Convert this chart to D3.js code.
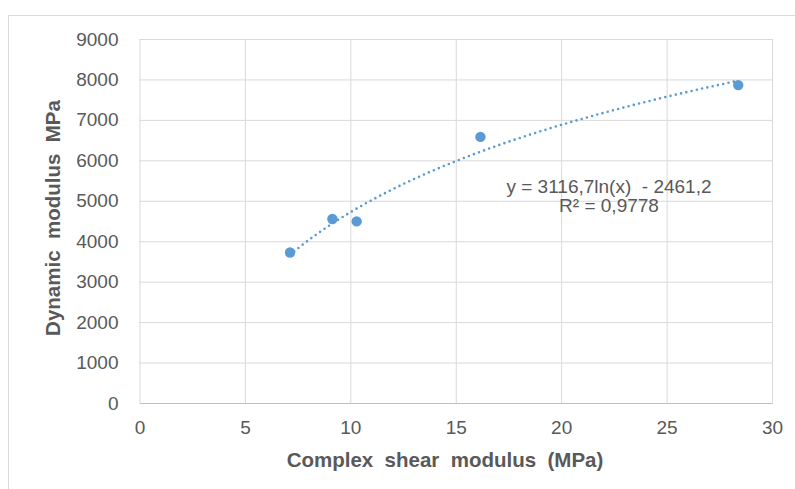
<!DOCTYPE html>
<html lang="en">
<head>
    <meta charset="UTF-8">
    <title>Dynamic vs complex shear modulus</title>
    <script src="https://d3js.org/d3.v7.min.js"></script>
    <style>
        body { margin: 0; background: white; }
        text { font-family: "Liberation Sans", Arial, sans-serif; fill: #595959; }
    </style>
</head>
<body>
    <svg id="svg1" width="795" height="489"></svg>

    <script>
        // data -------------------------------------------------------------------------
        const shearModulus = [7.14, 9.15, 10.3, 16.17, 28.4];      // MPa (x)
        const dynamicModulus = [3720, 4550, 4490, 6580, 7860];     // MPa (y)
        const xTicks = [0, 5, 10, 15, 20, 25, 30];
        const yTicks = [0, 1000, 2000, 3000, 4000, 5000, 6000, 7000, 8000, 9000];
        const trendA = 3116.7, trendB = -2461.2;                   // y = a ln(x) + b
        const equationLines = ["y = 3116,7ln(x)  - 2461,2", "R² = 0,9778"];

        // chart setup ------------------------------------------------------------------
        const svg = d3.select("svg#svg1");
        const margin = {top: 39, right: 23, bottom: 86, left: 139.5};
        const width = 795 - margin.left - margin.right;
        const height = 489 - margin.top - margin.bottom;

        // outer chart border (Excel chart area)
        svg.append("rect")
            .attr("x", 8.5).attr("y", 15.5)
            .attr("width", 800).attr("height", 500)
            .attr("fill", "white").attr("stroke", "#d9d9d9");

        const chart = svg.append("g").attr("transform", `translate(${margin.left}, ${margin.top})`);

        const x = d3.scaleLinear().domain([0, 30]).range([0, width]);
        const y = d3.scaleLinear().domain([0, 9000]).range([height, 0]);

        // gridlines
        chart.append("g")
            .call(d3.axisBottom(x).tickValues(xTicks).tickSize(height).tickFormat(""))
            .call(g => g.select(".domain").remove())
            .call(g => g.selectAll("line").attr("stroke", "#d9d9d9"));
        chart.append("g")
            .call(d3.axisLeft(y).tickValues(yTicks).tickSize(-width).tickFormat(""))
            .call(g => g.select(".domain").remove())
            .call(g => g.selectAll("line").attr("stroke", "#d9d9d9"));

        // axes (labels only, plus a darker baseline)
        const xAxis = chart.append("g")
            .attr("transform", `translate(0, ${height})`)
            .call(d3.axisBottom(x).tickValues(xTicks).tickSize(0).tickPadding(18).tickFormat(d3.format("d")));
        xAxis.select(".domain").attr("stroke", "#bfbfbf");
        xAxis.selectAll("text").attr("font-size", 19).style("fill", "#595959");

        const yAxis = chart.append("g")
            .call(d3.axisLeft(y).tickValues(yTicks).tickSize(0).tickPadding(21).tickFormat(d3.format("d")));
        yAxis.select(".domain").remove();
        yAxis.selectAll("text").attr("font-size", 19).style("fill", "#595959");

        // trendline (logarithmic) over the range of the data
        const xExtent = d3.extent(shearModulus);
        const trendX = d3.range(xExtent[0], xExtent[1], 0.1).concat([xExtent[1]]);
        chart.append("path")
            .datum(trendX)
            .attr("fill", "none")
            .attr("stroke", "#5b9bd5")
            .attr("stroke-width", 2.6)
            .attr("stroke-linecap", "round")
            .attr("stroke-dasharray", "0 5.4")
            .attr("d", d3.line().x(d => x(d)).y(d => y(trendA * Math.log(d) + trendB)));

        // points
        chart.selectAll("circle.pt")
            .data(shearModulus)
            .join("circle")
            .attr("class", "pt")
            .attr("cx", d => x(d))
            .attr("cy", (d, i) => y(dynamicModulus[i]))
            .attr("r", 5.2)
            .attr("fill", "#5b9bd5");

        // trendline label
        const eq = chart.append("text")
            .attr("y", 193 - margin.top)
            .attr("text-anchor", "middle")
            .attr("font-size", 19)
            .style("white-space", "pre");
        equationLines.forEach((t, i) => {
            eq.append("tspan").attr("x", 609 - margin.left).attr("dy", i === 0 ? 0 : 19).text(t);
        });

        // axis titles
        svg.append("text")
            .text("Complex  shear  modulus  (MPa)")
            .attr("x", 445).attr("y", 467)
            .attr("text-anchor", "middle")
            .attr("font-size", 20.5).attr("font-weight", "bold")
            .style("white-space", "pre");
        svg.append("text")
            .text("Dynamic  modulus  MPa")
            .attr("transform", "translate(60, 218) rotate(-90)")
            .attr("text-anchor", "middle")
            .attr("font-size", 20.5).attr("font-weight", "bold")
            .style("white-space", "pre");
    </script>
</body>
</html>
